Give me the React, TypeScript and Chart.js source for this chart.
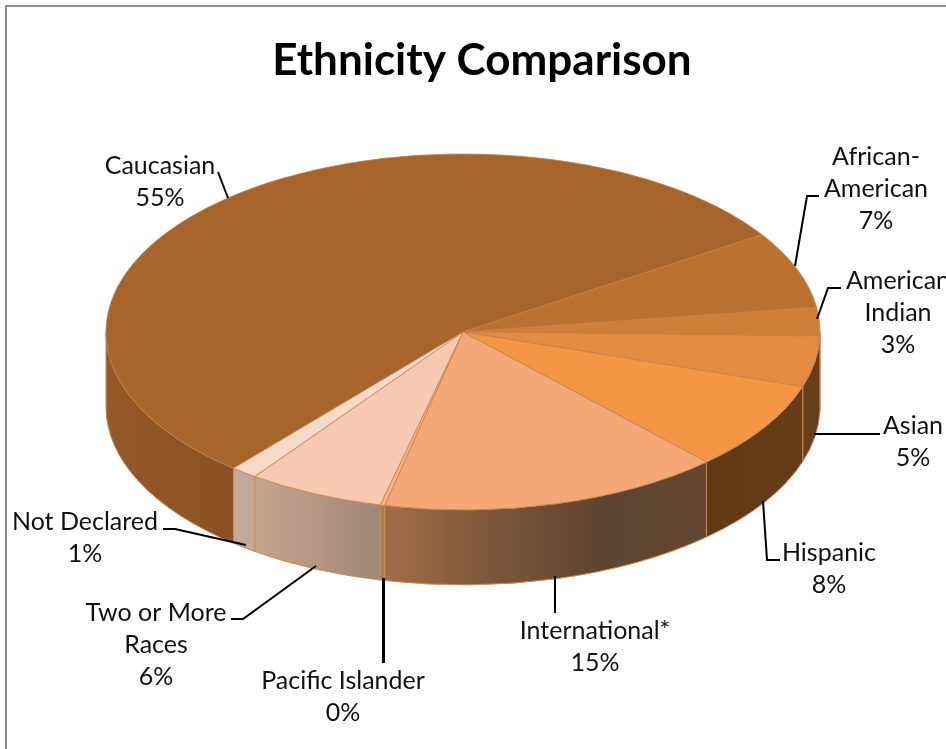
import React, { useEffect, useRef } from "react";
import { Chart, registerables } from "chart.js";

Chart.register(...registerables);

const chartTitle = "Ethnicity Comparison";
const categories = ["Caucasian", "African-American", "American Indian", "Asian", "Hispanic", "International*", "Pacific Islander", "Two or More Races", "Not Declared"];
const shares = [54.8, 7, 2.6, 4.6, 8.1, 15.5, 0.2, 6.2, 1.2];
const percentLabels = ["55%", "7%", "3%", "5%", "8%", "15%", "0%", "6%", "1%"];

const topColors = ["#a8652b", "#bb7231", "#cf7f38", "#e28b41", "#f39645", "#f4a877", "#f5b48a", "#f6c9b0", "#f7d9c8"];
const wallColors: string[][] = [
  ["#95592a", "#8f5526", "#8a5222"],
  ["#7a4a1e", "#7a4a1e"],
  ["#6c411c", "#6c411c"],
  ["#6a3f19", "#643c18"],
  ["#603915", "#663c18"],
  ["#a26e47", "#7d5639", "#5f4530", "#644731"],
  ["#ab7c58", "#ab7c58"],
  ["#c7a48f", "#a08774"],
  ["#c6aa9a", "#c2a696"],
];

const labelLines: string[][] = [
  ["Caucasian"],
  ["African-", "American"],
  ["American", "Indian"],
  ["Asian"],
  ["Hispanic"],
  ["International*"],
  ["Pacific Islander"],
  ["Two or More", "Races"],
  ["Not Declared"],
];
const labelCenterX = [160, 876, 898, 913, 829, 595, 343, 156, 85];
const labelTopY = [166, 157, 281, 426, 553, 631, 681, 613, 522];
const labelLineStep = 32;

const leaders: number[][][] = [
  [[218, 172], [228, 198]],
  [[819, 196], [807, 196], [795, 266]],
  [[841, 288], [828, 288], [817, 319]],
  [[880, 434], [814, 434]],
  [[780, 560], [767, 560], [763, 501]],
  [[555, 576], [555, 613]],
  [[383.5, 578], [383.5, 663]],
  [[231, 619], [243, 619], [316, 566]],
  [[163, 529], [175, 529], [246, 545]],
];
const leaderWidths = [2, 2, 2, 2, 2, 2, 3, 2, 2];

const RADIUS = 357;
const SQUASH = 178 / 357;
const DEPTH = 75;
const TWO_PI = Math.PI * 2;

const pie3d = {
  id: "pie3d",
  afterLayout(chart: any) {
    // the title sits a little right of the pie's centre
    if (chart.titleBlock) {
      chart.titleBlock.left += 19;
      chart.titleBlock.right += 19;
    }
  },
  beforeDraw(chart: any) {
    const ctx = chart.ctx;
    ctx.save();
    ctx.fillStyle = "#ffffff";
    ctx.fillRect(0, 0, chart.width, chart.height);
    ctx.strokeStyle = "#8c8c8c";
    ctx.lineWidth = 2;
    ctx.beginPath();
    ctx.moveTo(6, chart.height);
    ctx.lineTo(6, 6);
    ctx.lineTo(chart.width, 6);
    ctx.stroke();
    ctx.restore();
  },
  beforeDatasetsDraw(chart: any) {
    const ctx = chart.ctx;
    const arcs = chart.getDatasetMeta(0).data;
    arcs.forEach((arc: any, i: number) => {
      const { x, y, outerRadius: r } = arc;
      let a0 = arc.startAngle % TWO_PI;
      if (a0 < 0) a0 += TWO_PI;
      const a1 = a0 + (arc.endAngle - arc.startAngle);
      for (const k of [0, 1]) {
        const s = Math.max(a0, k * TWO_PI);
        const e = Math.min(a1, Math.PI + k * TWO_PI);
        if (e <= s) continue;
        const x0 = x + r * Math.cos(s);
        const x1 = x + r * Math.cos(e);
        const grad = ctx.createLinearGradient(Math.min(x0, x1), 0, Math.max(x0, x1), 0);
        const stops = wallColors[i];
        stops.forEach((c: string, j: number) => grad.addColorStop(j / (stops.length - 1), c));
        ctx.save();
        ctx.beginPath();
        ctx.ellipse(x, y, r, r * SQUASH, 0, s, e, false);
        ctx.ellipse(x, y + DEPTH, r, r * SQUASH, 0, e, s, true);
        ctx.closePath();
        ctx.fillStyle = grad;
        ctx.fill();
        ctx.strokeStyle = "#c98a55";
        ctx.lineWidth = 1;
        ctx.stroke();
        ctx.restore();
      }
    });
    const first = arcs[0];
    ctx.save();
    ctx.translate(first.x, first.y);
    ctx.scale(1, SQUASH);
    ctx.translate(-first.x, -first.y);
  },
  afterDatasetsDraw(chart: any) {
    chart.ctx.restore();
  },
  afterDraw(chart: any) {
    const ctx = chart.ctx;
    ctx.save();
    ctx.strokeStyle = "#000000";
    ctx.lineJoin = "miter";
    leaders.forEach((pts, i) => {
      ctx.lineWidth = leaderWidths[i];
      ctx.beginPath();
      pts.forEach(([px, py], j) => (j ? ctx.lineTo(px, py) : ctx.moveTo(px, py)));
      ctx.stroke();
    });
    ctx.fillStyle = "#111111";
    ctx.font = "25px Lato";
    ctx.textAlign = "center";
    ctx.textBaseline = "middle";
    labelLines.forEach((lines, i) => {
      [...lines, percentLabels[i]].forEach((t, j) => {
        ctx.fillText(t, labelCenterX[i], labelTopY[i] + j * labelLineStep);
      });
    });
    ctx.restore();
  },
};

export default function App() {
  const ref = useRef<HTMLCanvasElement>(null);
  useEffect(() => {
    const chart = new Chart(ref.current!, {
      type: "pie",
      data: {
        labels: categories,
        datasets: [
          {
            data: shares,
            backgroundColor: topColors,
            borderColor: "#c08048",
            borderWidth: 1,
            clip: false,
          } as any,
        ],
      },
      options: {
        responsive: false,
        animation: false,
        rotation: 220,
        radius: RADIUS,
        layout: { padding: { left: 0, right: 20, top: 0, bottom: 172 } },
        plugins: {
          legend: { display: false },
          tooltip: { enabled: false },
          title: {
            display: true,
            text: chartTitle,
            color: "#000000",
            font: { family: "Lato", size: 44, weight: "bold", lineHeight: 1.2 },
            padding: { top: 34, bottom: 0 },
          },
        },
      } as any,
      plugins: [pie3d],
    });
    return () => chart.destroy();
  }, []);
  return (
    <div style={{ position: "absolute", left: 0, top: 0, width: 946, height: 749, overflow: "hidden" }}>
      <canvas ref={ref} width={946} height={749} style={{ display: "block" }} />
    </div>
  );
}
